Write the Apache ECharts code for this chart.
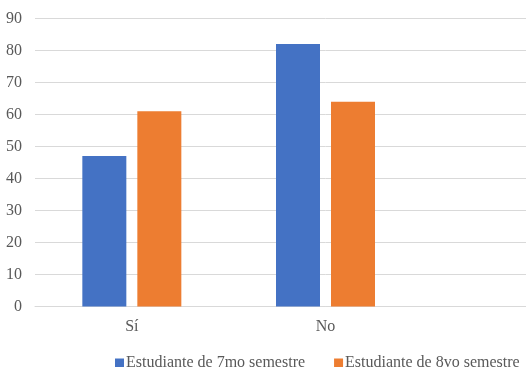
<!DOCTYPE html>
<html><head><meta charset="utf-8">
<script src="https://cdn.jsdelivr.net/npm/echarts@6/dist/echarts.min.js"></script>
<style>html,body{margin:0;padding:0;background:#fff;overflow:hidden;width:526px;height:367px}#c{width:616px;height:367px}</style>
</head><body><div id="c"></div>
<script>
const categories = ['Sí', 'No', ''];
const series7 = [47, 82, null];
const series8 = [61, 64, null];
const seriesNames = ['Estudiante de 7mo semestre', 'Estudiante de 8vo semestre'];
const yTicks = {min: 0, max: 90, interval: 10};

const chart = echarts.init(document.getElementById('c'), null, {renderer: 'canvas'});
const font = '"Liberation Serif", "Times New Roman", serif';
chart.setOption({
  animation: false,
  backgroundColor: '#fff',
  textStyle: {fontFamily: font},
  grid: {left: 35, top: 18.5, right: 0, bottom: 60.5, containLabel: false},
  legend: {
    bottom: -9, left: 110,
    itemWidth: 9, itemHeight: 9, itemGap: 29,
    icon: 'rect',
    textStyle: {fontFamily: font, fontSize: 16, color: '#595959', padding: [0, 0, 0, -3]},
    data: seriesNames
  },
  xAxis: {
    type: 'category', data: categories,
    axisLine: {show: true, lineStyle: {color: '#d9d9d9', width: 1}},
    axisTick: {show: false},
    axisLabel: {fontFamily: font, fontSize: 16, color: '#595959', margin: 12}
  },
  yAxis: {
    type: 'value', min: yTicks.min, max: yTicks.max, interval: yTicks.interval,
    axisLine: {show: false}, axisTick: {show: false},
    axisLabel: {fontFamily: font, fontSize: 16, color: '#595959', margin: 13},
    splitLine: {lineStyle: {color: '#d9d9d9', width: 1}}
  },
  series: [
    {name: seriesNames[0], type: 'bar', data: series7, barWidth: 44, barGap: '25%',
     itemStyle: {color: '#4472C4'}},
    {name: seriesNames[1], type: 'bar', data: series8, barWidth: 44,
     itemStyle: {color: '#ED7D31'}}
  ]
});
</script></body></html>
